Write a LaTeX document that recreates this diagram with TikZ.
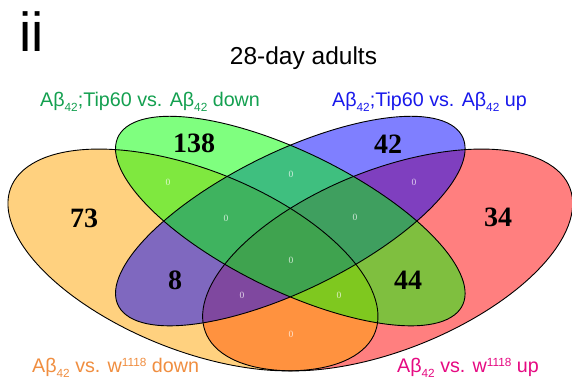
\documentclass[tikz,border=0pt]{standalone}
\usepackage{fontspec}
\setmainfont{Liberation Sans}
\newfontfamily\numfont{Liberation Serif}
\newcommand\lowsub[1]{\raisebox{-4.5pt}{\fontsize{11.8}{11.8}\selectfont #1}}
\newcommand\highsup[1]{\raisebox{6pt}{\fontsize{11.8}{11.8}\selectfont #1}}
\definecolor{setorange}{RGB}{255,165,0}
\definecolor{setgreen}{RGB}{0,255,0}
\definecolor{setblue}{RGB}{0,0,255}
\definecolor{setred}{RGB}{255,0,0}
\definecolor{labgreen}{RGB}{20,160,80}
\definecolor{labblue}{RGB}{25,25,235}
\definecolor{laborange}{RGB}{240,142,64}
\definecolor{labmagenta}{RGB}{230,10,130}
\begin{document}
\begin{tikzpicture}[x=1pt,y=1pt,
  vset/.style={fill opacity=0.5},
  vline/.style={draw=black, line width=0.9pt},
  bignum/.style={font=\numfont\bfseries\fontsize{28}{28}\selectfont, inner sep=0},
  zero/.style={font=\numfont\fontsize{9.5}{9.5}\selectfont, text=white, text opacity=0.75, inner sep=0},
  setlabel/.style={font=\fontsize{19.7}{20}\selectfont, inner sep=0, anchor=base west}]
\useasboundingbox (0,0) rectangle (572,379);
\fill[white] (0,0) rectangle (572,379);
\begin{scope}[shift={(-34.2,-63.8)}, xscale=649, yscale=389]
  % fills
  \fill[vset, fill=setred, rotate around={45:(0.65,0.47)}] (0.65,0.47) ellipse [x radius=0.35, y radius=0.2];
  \fill[vset, fill=setorange, rotate around={-45:(0.35,0.47)}] (0.35,0.47) ellipse [x radius=0.35, y radius=0.2];
  \fill[vset, fill=setblue, rotate around={45:(0.5,0.57)}] (0.5,0.57) ellipse [x radius=0.35, y radius=0.15];
  \fill[vset, fill=setgreen, rotate around={-45:(0.5,0.57)}] (0.5,0.57) ellipse [x radius=0.35, y radius=0.15];
  % outlines
  \draw[vline, rotate around={45:(0.65,0.47)}] (0.65,0.47) ellipse [x radius=0.35, y radius=0.2];
  \draw[vline, rotate around={-45:(0.35,0.47)}] (0.35,0.47) ellipse [x radius=0.35, y radius=0.2];
  \draw[vline, rotate around={45:(0.5,0.57)}] (0.5,0.57) ellipse [x radius=0.35, y radius=0.15];
  \draw[vline, rotate around={-45:(0.5,0.57)}] (0.5,0.57) ellipse [x radius=0.35, y radius=0.15];
\end{scope}
% panel mark and title
\node[font=\fontsize{55}{55}\selectfont, inner sep=0, anchor=base west] (panel) at (19.5,327) {ii};
\node[font=\fontsize{24.5}{25}\selectfont, inner sep=0, anchor=base] (title) at (303.5,314) {28-day adults};
% set labels
\node[setlabel, text=labgreen] (labB) at (40,272) {Aβ\lowsub{42};Tip60 vs. Aβ\lowsub{42} down};
\node[setlabel, text=labblue] (labC) at (332,272) {Aβ\lowsub{42};Tip60 vs. Aβ\lowsub{42} up};
\node[setlabel, text=laborange] (labA) at (32,6) {Aβ\lowsub{42} vs. w\highsup{1118} down};
\node[setlabel, text=labmagenta] (labD) at (397,6) {Aβ\lowsub{42} vs. w\highsup{1118} up};
% region counts
\node[bignum] (nA) at (84,161) {73};
\node[bignum] (nB) at (194,236) {138};
\node[bignum] (nC) at (388,235) {42};
\node[bignum] (nD) at (498,162) {34};
\node[bignum] (nAC) at (175,99) {8};
\node[bignum] (nBD) at (408,99) {44};
% zero regions
\node[zero] (zAB) at (168,197) {0};
\node[zero] (zCD) at (414,197) {0};
\node[zero] (zBC) at (291,205) {0};
\node[zero] (zABC) at (226,161) {0};
\node[zero] (zBCD) at (355,162) {0};
\node[zero] (zABCD) at (291,119) {0};
\node[zero] (zACD) at (242,84) {0};
\node[zero] (zABD) at (339,84) {0};
\node[zero] (zAD) at (291,45) {0};
\end{tikzpicture}
\end{document}
